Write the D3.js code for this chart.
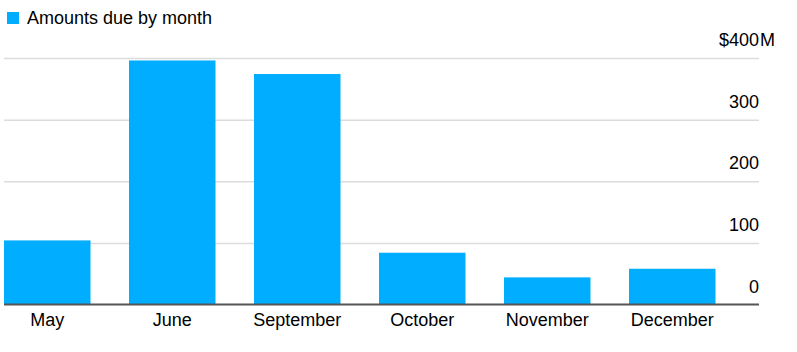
<!DOCTYPE html>
<meta charset="utf-8">
<head>
  <title>Amounts due by month</title>
</head>

<style>
body {
  margin: 0;
  background: #fff;
  font-family: "Liberation Sans", Arial, sans-serif;
}
text {
  fill: #000;
  font-size: 18px;
}
.grid line {
  stroke: #dcdcdc;
  stroke-width: 1.5;
}
.grid path {
  display: none;
}
</style>

<body>
  <svg width="797" height="352">
    <g id="wrapper"></g>
  </svg>

  <script src="https://cdnjs.cloudflare.com/ajax/libs/d3/7.8.5/d3.min.js"></script>

  <script>
  var months = ['May', 'June', 'September', 'October', 'November', 'December'];
  var amounts = [104, 396, 374, 84, 44, 58];
  var yTicks = [0, 100, 200, 300, 400];
  var legendLabel = 'Amounts due by month';

  var barColor = '#00adff';

  var xScale = d3.scaleBand()
    .domain(months)
    .range([4, 715.5])
    .paddingInner(0.308)
    .paddingOuter(0);

  var yScale = d3.scaleLinear()
    .domain([0, 400])
    .range([304.5, 58]);

  var svg = d3.select('#wrapper');

  // legend
  svg.append('rect')
    .attr('x', 7)
    .attr('y', 12)
    .attr('width', 12)
    .attr('height', 12)
    .style('fill', barColor);

  svg.append('text')
    .attr('x', 27)
    .attr('y', 24)
    .text(legendLabel);

  // gridlines + labels
  var gridAxis = d3.axisRight(yScale)
    .tickValues(yTicks.filter(function(d) { return d > 0; }))
    .tickSize(755)
    .tickFormat('');

  svg.append('g')
    .attr('class', 'grid')
    .attr('transform', 'translate(4, 0)')
    .call(gridAxis);

  svg.selectAll('text.ylabel')
    .data(yTicks)
    .enter()
    .append('text')
    .attr('class', 'ylabel')
    .attr('x', 759)
    .attr('y', function(d) { return yScale(d) - 12; })
    .attr('text-anchor', 'end')
    .text(function(d, i) {
      return i === yTicks.length - 1 ? '$' + d : d;
    });

  svg.append('text')
    .attr('x', 760)
    .attr('y', yScale(yTicks[yTicks.length - 1]) - 12)
    .text('M');

  // bars
  svg.selectAll('rect.bar')
    .data(amounts)
    .enter()
    .append('rect')
    .attr('class', 'bar')
    .attr('x', function(d, i) { return xScale(months[i]); })
    .attr('y', function(d) { return yScale(d); })
    .attr('width', xScale.bandwidth())
    .attr('height', function(d) { return yScale(0) - yScale(d); })
    .style('fill', barColor);

  // baseline
  svg.append('line')
    .attr('x1', 4)
    .attr('x2', 759)
    .attr('y1', yScale(0))
    .attr('y2', yScale(0))
    .style('stroke', '#555')
    .style('stroke-width', 2);

  // month labels
  var xAxis = d3.axisBottom(xScale)
    .tickSize(0)
    .tickPadding(0);

  var xg = svg.append('g')
    .attr('transform', 'translate(0, ' + yScale(0) + ')')
    .call(xAxis);

  xg.select('.domain').remove();
  xg.selectAll('text')
    .attr('y', 21.5)
    .attr('dy', 0)
    .style('font-size', '18px')
    .style('font-family', '"Liberation Sans", Arial, sans-serif')
    .style('fill', '#000');
  </script>
</body>
</html>
